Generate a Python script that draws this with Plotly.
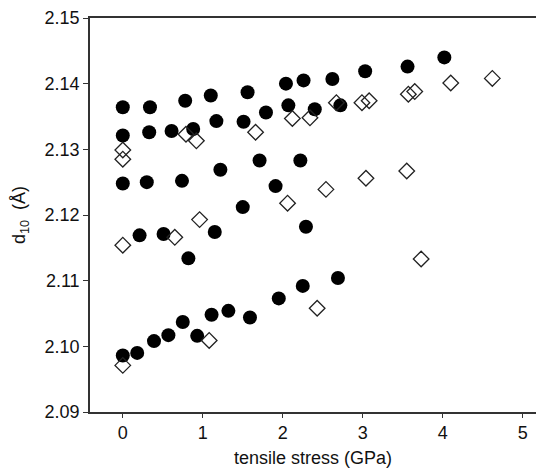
import plotly.graph_objects as go

# Filled circles: measured d10 spacing vs applied tensile stress
stress_filled = [0.00, 0.34, 0.78, 1.10, 1.56, 2.04, 2.26, 2.62, 3.03, 3.56, 4.02,
                 0.00, 0.33, 0.61, 0.88, 1.17, 1.51, 1.79, 2.07, 2.40, 2.72,
                 0.00, 0.30, 0.74, 1.22, 1.71, 2.22, 1.91, 1.50,
                 0.21, 0.51, 1.15, 2.29, 0.82,
                 0.00, 0.18, 0.39, 0.57, 0.75, 0.93, 1.11, 1.32, 1.59, 1.95, 2.25, 2.69]
d10_filled = [2.1364, 2.1364, 2.1374, 2.1382, 2.1387, 2.1400, 2.1405, 2.1407, 2.1419, 2.1426, 2.1440,
              2.1321, 2.1326, 2.1328, 2.1331, 2.1343, 2.1342, 2.1356, 2.1367, 2.1361, 2.1367,
              2.1248, 2.1250, 2.1252, 2.1269, 2.1283, 2.1283, 2.1244, 2.1212,
              2.1169, 2.1171, 2.1174, 2.1182, 2.1134,
              2.0986, 2.0990, 2.1008, 2.1017, 2.1037, 2.1016, 2.1048, 2.1054, 2.1044, 2.1073, 2.1092, 2.1104]

# Open diamonds: second data set
stress_open = [0.00, 0.00, 0.79, 0.92, 1.66, 2.12, 2.34, 2.67, 2.99, 3.08, 3.57, 3.65, 4.10, 4.62,
               0.96, 2.06, 2.54, 3.04, 3.55, 0.00, 0.65, 3.73,
               0.00, 1.08, 2.43]
d10_open = [2.1299, 2.1285, 2.1323, 2.1313, 2.1326, 2.1347, 2.1348, 2.1371, 2.1371, 2.1374, 2.1384, 2.1388, 2.1401, 2.1408,
            2.1193, 2.1218, 2.1239, 2.1256, 2.1267, 2.1154, 2.1166, 2.1133,
            2.0971, 2.1009, 2.1058]

x_ticks = [0, 1, 2, 3, 4, 5]
y_ticks = [2.09, 2.10, 2.11, 2.12, 2.13, 2.14, 2.15]

ink = "#111111"
font_family = "Liberation Sans, Arial, sans-serif"

fig = go.Figure()
fig.add_trace(go.Scatter(
    x=stress_filled, y=d10_filled, mode="markers",
    marker=dict(symbol="circle", size=14, color="black", line=dict(width=0)),
    showlegend=False, cliponaxis=False,
))
fig.add_trace(go.Scatter(
    x=stress_open, y=d10_open, mode="markers",
    marker=dict(symbol="diamond-open", size=12, color="#222222", line=dict(width=1.3)),
    showlegend=False, cliponaxis=False,
))

fig.update_layout(
    width=536, height=470,
    margin=dict(l=90, r=0, t=18, b=58),
    paper_bgcolor="white", plot_bgcolor="white",
    font=dict(family=font_family, size=18, color=ink),
    xaxis=dict(
        range=[-0.41, 5.166], tickvals=x_ticks, ticktext=[str(v) for v in x_ticks],
        showgrid=False, zeroline=False,
        showline=True, linecolor="#333333", linewidth=1.5, mirror=True,
        ticks="outside", ticklen=4, tickwidth=1, tickcolor="#333333",
        tickfont=dict(size=18, color=ink),
        title=dict(text="tensile stress (GPa)", font=dict(size=18, color=ink), standoff=9),
    ),
    yaxis=dict(
        range=[2.09, 2.15], tickvals=y_ticks, ticktext=[f"{v:.2f}" for v in y_ticks],
        showgrid=False, zeroline=False,
        showline=True, linecolor="#333333", linewidth=1.5,
        ticks="outside", ticklen=5, tickwidth=1, tickcolor="#333333",
        tickfont=dict(size=18, color=ink),
        title=dict(text="d<sub>10</sub>  (Å)", font=dict(size=18, color=ink), standoff=14),
    ),
)

fig.write_html("out.html")
